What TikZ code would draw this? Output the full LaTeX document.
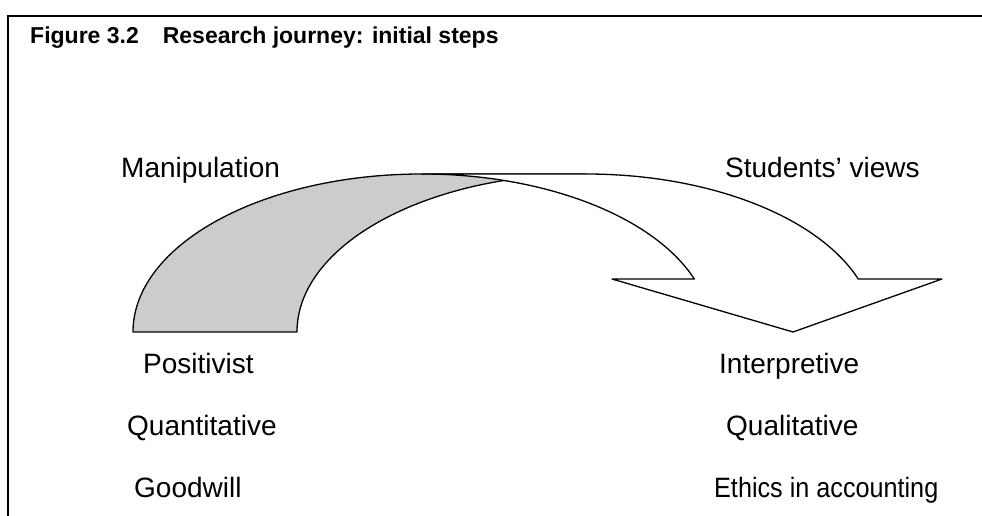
\documentclass[tikz,border=0pt]{standalone}
\usepackage{fontspec}
\setmainfont{Liberation Sans}
\usetikzlibrary{positioning}

\definecolor{tailgray}{RGB}{204,204,204}

\begin{document}
\begin{tikzpicture}[x=1pt,y=1pt,
    lbl/.style={anchor=base west,inner sep=0pt,font=\fontsize{28}{32}\selectfont},
    ttl/.style={anchor=base west,inner sep=0pt,font=\fontsize{23}{27}\selectfont\bfseries},
    band/.style={draw,line width=1.3pt,line join=round}]
   \useasboundingbox (0,0) rectangle (982,516);
   % frame
   \draw[line width=2.2pt] (8,0) |- (982,500);
   \node[ttl] (title) at (30,472) {Figure 3.2\hspace{24pt}Research journey: initial steps};
   % rear part of the curved arrow
   \path[band,fill=tailgray] (133,184) arc[start angle=180,end angle=90,x radius=289,y radius=158]
        -- (586,342) arc[start angle=90,end angle=180,x radius=289,y radius=158] -- cycle;
   % front part with the head
   \path[band,fill=white] (422,342) -- (586,342)
        arc[start angle=90,end angle=19.6,x radius=289,y radius=158]
        -- (942,237) -- (793,184) -- (612,237) -- (694.3,237)
        arc[start angle=19.6,end angle=90,x radius=289,y radius=158] -- cycle;
   % labels
   \node[lbl] (manip) at (121,338) {Manipulation};
   \node[lbl] (views) at (725,338) {Students’ views};
   \node[lbl] (posit) at (143,142) {Positivist};
   \node[lbl] (quant) at (127,80) {Quantitative};
   \node[lbl] (goodw) at (134,18) {Goodwill};
   \node[lbl] (inter) at (719,142) {Interpretive};
   \node[lbl] (qual)  at (726,80) {Qualitative};
   \node[lbl,xscale=0.9] (ethic) at (714,18) {Ethics in accounting};
\end{tikzpicture}
\end{document}
